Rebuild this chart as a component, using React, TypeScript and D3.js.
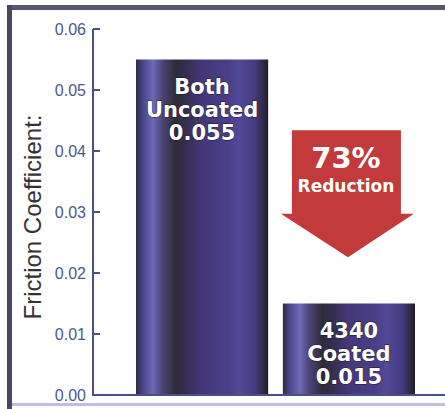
import React, { useEffect, useRef } from 'react';
import * as d3 from 'd3';

const categories = ['uncoated', 'coated'];
const values = [0.055, 0.015];
const barLabels = [
  ['Both', 'Uncoated', '0.055'],
  ['4340', 'Coated', '0.015'],
];
const yTicks = [0, 0.01, 0.02, 0.03, 0.04, 0.05, 0.06];
const reductionText = ['73%', 'Reduction'];

const App: React.FC = () => {
  const ref = useRef<SVGSVGElement | null>(null);

  useEffect(() => {
    const width = 445;
    const height = 409;
    const svg = d3.select(ref.current).attr('width', width).attr('height', height);
    svg.selectAll('*').remove();

    const y = d3.scaleLinear().domain([0, 0.06]).range([395, 29]);
    const x = d3.scaleBand<string>().domain(categories).range([136, 415]).paddingInner(0.1).paddingOuter(0);

    const defs = svg.append('defs');
    const grad = defs.append('linearGradient').attr('id', 'barGrad').attr('x1', 0).attr('x2', 1).attr('y1', 0).attr('y2', 0);
    [
      [0, '#2e2a3e'],
      [0.05, '#4a4488'],
      [0.13, '#6e6ab6'],
      [0.2, '#4c4478'],
      [0.3, '#2e2c38'],
      [0.38, '#362e52'],
      [0.5, '#44387a'],
      [0.7, '#4a3e88'],
      [0.78, '#524a98'],
      [0.9, '#443a80'],
      [0.97, '#2e2840'],
      [1, '#201c28'],
    ].forEach(([o, c]) => grad.append('stop').attr('offset', o as number).attr('stop-color', c as string));

    // frame
    svg.append('rect').attr('x', 0).attr('y', 0).attr('width', width).attr('height', height).attr('fill', '#ffffff');
    svg.append('rect').attr('x', 7).attr('y', 5).attr('width', width - 7).attr('height', 5).attr('fill', '#5a5670');
    svg.append('rect').attr('x', 7).attr('y', 5).attr('width', 5).attr('height', 404).attr('fill', '#4a4660');
    svg.append('rect').attr('x', 12).attr('y', 403).attr('width', width - 12).attr('height', 3).attr('fill', '#c8b8e8');

    // bars
    const g = svg.append('g');
    g.selectAll('rect.bar')
      .data(values)
      .enter()
      .append('rect')
      .attr('class', 'bar')
      .attr('x', (_, i) => x(categories[i])!)
      .attr('y', d => y(d))
      .attr('width', x.bandwidth())
      .attr('height', d => y(0) - y(d))
      .attr('fill', 'url(#barGrad)');

    values.forEach((v, i) => {
      const cx = x(categories[i])! + x.bandwidth() / 2;
      const top = y(v);
      barLabels[i].forEach((t, j) => {
        g.append('text')
          .attr('x', cx)
          .attr('y', top + 34 + j * 23)
          .attr('text-anchor', 'middle')
          .attr('font-family', 'DejaVu Sans, sans-serif')
          .attr('font-weight', 'bold')
          .attr('font-size', 21)
          .attr('fill', '#ffffff')
          .attr('stroke', '#1a1420')
          .attr('stroke-width', 0.8)
          .attr('paint-order', 'stroke')
          .text(t);
      });
    });

    // axes
    const axisColor = '#4a4f8a';
    svg.append('line').attr('x1', 93).attr('x2', 93).attr('y1', y(0.06)).attr('y2', y(0)).attr('stroke', axisColor).attr('stroke-width', 2);
    svg.append('line').attr('x1', 92).attr('x2', width).attr('y1', y(0)).attr('y2', y(0)).attr('stroke', axisColor).attr('stroke-width', 2);
    const ticks = svg.append('g');
    yTicks.forEach(t => {
      if (t > 0) {
        ticks.append('line').attr('x1', 93).attr('x2', 100).attr('y1', y(t)).attr('y2', y(t)).attr('stroke', axisColor).attr('stroke-width', 2);
      }
      ticks.append('text')
        .attr('x', 86)
        .attr('y', y(t))
        .attr('dy', '0.35em')
        .attr('text-anchor', 'end')
        .attr('font-family', 'Liberation Sans, Arial, sans-serif')
        .attr('font-size', 16)
        .attr('fill', '#4a5a8a')
        .text(d3.format('.2f')(t));
    });

    svg.append('text')
      .attr('transform', `translate(41, ${y(0.03) + 5}) rotate(-90)`)
      .attr('text-anchor', 'middle')
      .attr('font-family', 'Liberation Sans, Arial, sans-serif')
      .attr('font-size', 24)
      .attr('fill', '#333333')
      .text('Friction Coefficient:');

    // reduction arrow
    const ax = x(categories[1])! + x.bandwidth() / 2;
    const aTop = y(0.0434);
    const aNeck = y(0.0297);
    const aTip = y(0.0226);
    const path = d3.path();
    path.moveTo(ax - 57, aTop);
    path.lineTo(ax + 52, aTop);
    path.lineTo(ax + 52, aNeck);
    path.lineTo(ax + 65, aNeck);
    path.lineTo(ax - 1, aTip);
    path.lineTo(ax - 68, aNeck);
    path.lineTo(ax - 57, aNeck);
    path.closePath();
    svg.append('path').attr('d', path.toString()).attr('fill', '#c23a3a');

    svg.append('text')
      .attr('x', ax - 3)
      .attr('y', aTop + 38)
      .attr('text-anchor', 'middle')
      .attr('font-family', 'DejaVu Sans, sans-serif')
      .attr('font-weight', 'bold')
      .attr('font-size', 29)
      .attr('fill', '#ffffff')
      .text(reductionText[0]);
    svg.append('text')
      .attr('x', ax - 3)
      .attr('y', aTop + 62)
      .attr('text-anchor', 'middle')
      .attr('font-family', 'DejaVu Sans, sans-serif')
      .attr('font-weight', 'bold')
      .attr('font-size', 17)
      .attr('fill', '#ffffff')
      .text(reductionText[1]);
  }, []);

  return <svg ref={ref} style={{ position: 'absolute', left: 0, top: 0 }}></svg>;
};

export default App;
